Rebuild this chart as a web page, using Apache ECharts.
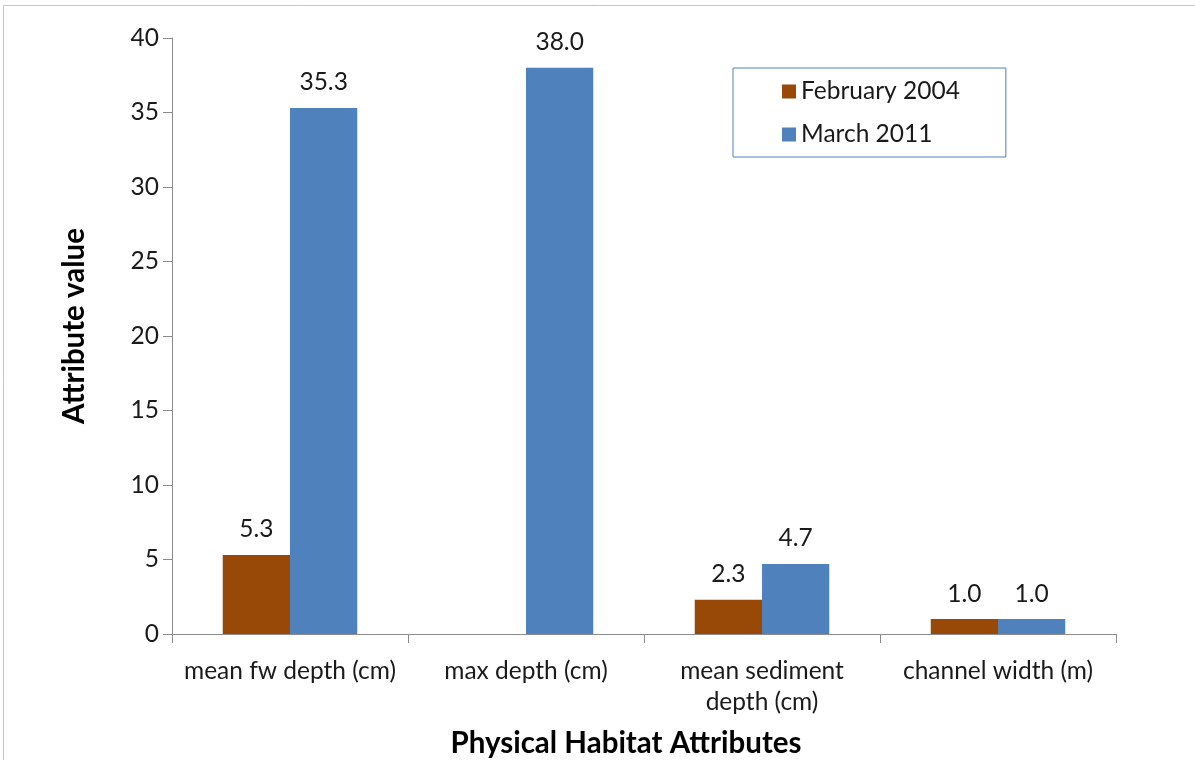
<!DOCTYPE html>
<html><head><meta charset="utf-8">
<script src="https://cdn.jsdelivr.net/npm/echarts@6/dist/echarts.min.js"></script>
<style>html,body{margin:0;padding:0;background:#fff}#c{width:1195px;height:760px}</style>
</head><body><div id="c"></div>
<script>
const categories = ['mean fw depth (cm)', 'max depth (cm)', 'mean sediment\ndepth (cm)', 'channel width (m)'];
const feb2004 = [5.3, null, 2.3, 1.0];
const mar2011 = [35.3, 38.0, 4.7, 1.0];
const yTicks = {min: 0, max: 40, interval: 5};

const FONT = 'Lato';
const FS = 24.5;
const chart = echarts.init(document.getElementById('c'));
const lbl = {show: true, position: 'top', distance: 13, fontFamily: FONT, fontSize: FS, color: '#1a1a1a',
  formatter: p => p.value == null ? '' : Number(p.value).toFixed(1)};
chart.setOption({
  animation: false,
  backgroundColor: '#fff',
  graphic: [{type: 'rect', shape: {x: 3.5, y: 5.5, width: 1300, height: 900}, style: {fill: 'none', stroke: '#c4c4c4', lineWidth: 1}, silent: true}],
  grid: {left: 172, right: 79, top: 38, bottom: 126, containLabel: false, outerBoundsMode: 'none'},
  legend: {
    orient: 'vertical', left: 733, top: 68,
    padding: [11, 46, 10, 49], itemGap: 18,
    borderColor: '#4F81BD', borderWidth: 1,
    itemWidth: 14, itemHeight: 14, icon: 'rect',
    textStyle: {fontFamily: FONT, fontSize: FS, color: '#1a1a1a', padding: [0, 0, 0, 0]},
    data: ['February 2004', 'March 2011']
  },
  xAxis: {
    type: 'category', data: categories,
    axisLine: {lineStyle: {color: '#8c8c8c', width: 1}},
    axisTick: {show: true, length: 9, alignWithLabel: false, lineStyle: {color: '#8c8c8c'}},
    axisLabel: {fontFamily: FONT, fontSize: FS, color: '#1a1a1a', margin: 22, lineHeight: 31, interval: 0},
    name: 'Physical Habitat Attributes', nameLocation: 'middle', nameGap: 94,
    nameTextStyle: {fontFamily: FONT, fontSize: 29.5, fontWeight: 'bold', color: '#000', padding: [0, 36, 0, 0]}
  },
  yAxis: {
    type: 'value', min: yTicks.min, max: yTicks.max, interval: yTicks.interval,
    axisLine: {show: true, lineStyle: {color: '#8c8c8c', width: 1}},
    axisTick: {show: true, length: 9, lineStyle: {color: '#8c8c8c'}},
    splitLine: {show: false},
    axisLabel: {fontFamily: FONT, fontSize: FS, color: '#1a1a1a', margin: 13},
    name: 'Attribute value', nameLocation: 'middle', nameGap: 83,
    nameTextStyle: {fontFamily: FONT, fontSize: 29.5, fontWeight: 'bold', color: '#000', padding: [0, 0, 0, 20]}
  },
  series: [
    {name: 'February 2004', type: 'bar', data: feb2004, itemStyle: {color: '#984807'}, barGap: '0%', barCategoryGap: '43%', label: lbl},
    {name: 'March 2011', type: 'bar', data: mar2011, itemStyle: {color: '#4F81BD'}, barGap: '0%', barCategoryGap: '43%', label: lbl}
  ]
});
</script></body></html>
